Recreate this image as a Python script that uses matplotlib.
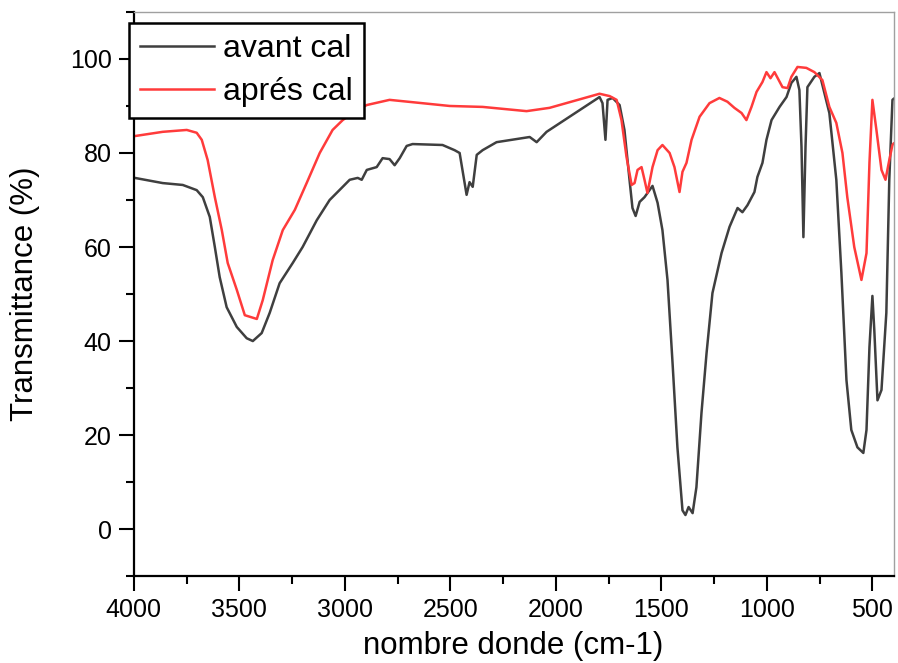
import matplotlib
matplotlib.use("Agg")
import matplotlib.pyplot as plt
from matplotlib.ticker import MultipleLocator

plt.rcParams["font.family"] = ["Liberation Sans", "DejaVu Sans"]

# FTIR spectrum before calcination (wavenumber cm-1, transmittance %)
avant_x = [3995, 3863, 3768, 3702, 3673, 3640, 3616, 3593, 3560, 3512, 3465, 3436, 3394,
           3356, 3309, 3247, 3200, 3133, 3072, 3010, 2977, 2939, 2920, 2896, 2849, 2821,
           2788, 2764, 2740, 2707, 2679, 2537, 2480, 2456, 2423, 2409, 2394, 2375, 2347,
           2281, 2124, 2091, 2044, 1793, 1779, 1765, 1755, 1731, 1698, 1675, 1651, 1637,
           1622, 1603, 1580, 1542, 1518, 1495, 1471, 1447, 1424, 1400, 1386, 1371, 1352,
           1334, 1310, 1286, 1258, 1215, 1177, 1139, 1116, 1092, 1059, 1045, 1021, 1002,
           978, 940, 907, 884, 860, 846, 836, 827, 817, 808, 775, 751, 704, 671, 647, 623,
           600, 571, 543, 528, 514, 500, 491, 476, 457, 434, 420, 405, 400]
avant_y = [74.7, 73.6, 73.2, 72.1, 70.6, 66.4, 60.0, 53.6, 47.2, 43.0, 40.6, 40.0, 41.7,
           46.0, 52.3, 56.6, 60.0, 65.7, 70.0, 72.8, 74.3, 74.7, 74.3, 76.4, 77.0, 78.9,
           78.7, 77.4, 78.9, 81.5, 81.9, 81.7, 80.6, 80.0, 71.1, 73.8, 72.8, 79.6, 80.6,
           82.3, 83.4, 82.3, 84.5, 91.9, 90.6, 82.8, 91.3, 91.7, 90.2, 84.9, 74.3, 68.3,
           66.6, 69.6, 70.6, 73.0, 69.4, 63.6, 53.0, 35.3, 17.4, 4.0, 3.0, 4.7, 3.4,
           8.9, 24.7, 37.4, 50.2, 58.7, 64.3, 68.3, 67.4, 68.9, 71.7, 74.9, 77.9, 82.8,
           87.0, 89.8, 91.9, 94.9, 96.2, 93.4, 81.3, 62.1, 81.3, 94.0, 96.2, 97.0, 88.5,
           74.3, 54.5, 31.7, 21.1, 17.4, 16.2, 21.1, 38.7, 49.6, 42.3, 27.4, 29.6, 46.0,
           74.3, 91.3, 91.5]

# FTIR spectrum after calcination
apres_x = [3995, 3863, 3749, 3702, 3678, 3650, 3616, 3583, 3555, 3512, 3474, 3417, 3389,
           3342, 3294, 3237, 3181, 3119, 3058, 3010, 2944, 2896, 2788, 2503, 2347, 2139,
           2030, 1793, 1745, 1712, 1689, 1665, 1641, 1627, 1613, 1594, 1580, 1566, 1542,
           1518, 1495, 1461, 1438, 1414, 1400, 1381, 1357, 1319, 1272, 1225, 1187, 1154,
           1120, 1097, 1073, 1049, 1021, 1002, 983, 964, 926, 902, 884, 855, 813, 775,
           737, 704, 671, 642, 619, 586, 552, 528, 514, 500, 481, 457, 438, 420, 405, 400]
apres_y = [83.6, 84.5, 84.9, 84.3, 82.8, 78.5, 70.6, 63.6, 56.6, 50.9, 45.5, 44.7, 48.7,
           57.2, 63.6, 67.9, 73.6, 80.0, 84.9, 87.0, 89.1, 90.2, 91.3, 90.0, 89.8, 88.9,
           89.6, 92.6, 92.1, 91.3, 87.0, 79.1, 73.2, 73.6, 76.4, 77.0, 74.3, 71.5, 77.0,
           80.6, 81.7, 80.0, 77.0, 71.7, 76.0, 77.9, 82.8, 87.7, 90.6, 91.7, 90.9, 89.6,
           88.5, 87.0, 89.8, 93.0, 95.1, 97.2, 95.9, 97.2, 94.0, 93.8, 96.2, 98.3, 98.1, 97.2,
           95.5, 89.8, 86.4, 80.0, 70.6, 60.0, 53.0, 58.7, 77.9, 91.3, 84.9, 76.4, 74.3,
           78.5, 81.7, 82.0]

fig = plt.figure(figsize=(8.98, 6.63), dpi=100)
ax = fig.add_axes([0.149, 0.131, 0.846, 0.851])

ax.plot(avant_x, avant_y, color="#3f3f3f", linewidth=1.8, label="avant cal")
ax.plot(apres_x, apres_y, color="#ff3b3b", linewidth=1.8, label="aprés cal")

ax.set_xlim(4000, 400)
ax.set_ylim(-10, 110)
ax.xaxis.set_major_locator(MultipleLocator(500))
ax.xaxis.set_minor_locator(MultipleLocator(250))
ax.yaxis.set_major_locator(MultipleLocator(20))
ax.yaxis.set_minor_locator(MultipleLocator(10))
ax.tick_params(which="major", direction="out", length=11, width=1.5, labelsize=18, pad=5)
ax.tick_params(which="minor", direction="out", length=6, width=1.5)
ax.tick_params(top=False, right=False)

for side in ("left", "bottom"):
    ax.spines[side].set_linewidth(1.6)
    ax.spines[side].set_color("black")
for side in ("top", "right"):
    ax.spines[side].set_linewidth(1.0)
    ax.spines[side].set_color("#a0a0a0")

ax.set_xlabel("nombre donde (cm-1)", fontsize=22.5)
ax.set_ylabel("Transmittance (%)", fontsize=22.5)
ax.xaxis.set_label_coords(0.5, -0.098)
ax.yaxis.set_label_coords(-0.124, 0.5)

leg = ax.legend(loc="upper left", bbox_to_anchor=(-0.006, 0.98), fontsize=23,
                frameon=True, fancybox=False, handlelength=2.3, handletextpad=0.3,
                borderpad=0.34, labelspacing=0.42, borderaxespad=0)
leg.get_frame().set_edgecolor("black")
leg.get_frame().set_linewidth(1.8)
leg.get_frame().set_alpha(1)

fig.savefig("out.png", dpi=100)
